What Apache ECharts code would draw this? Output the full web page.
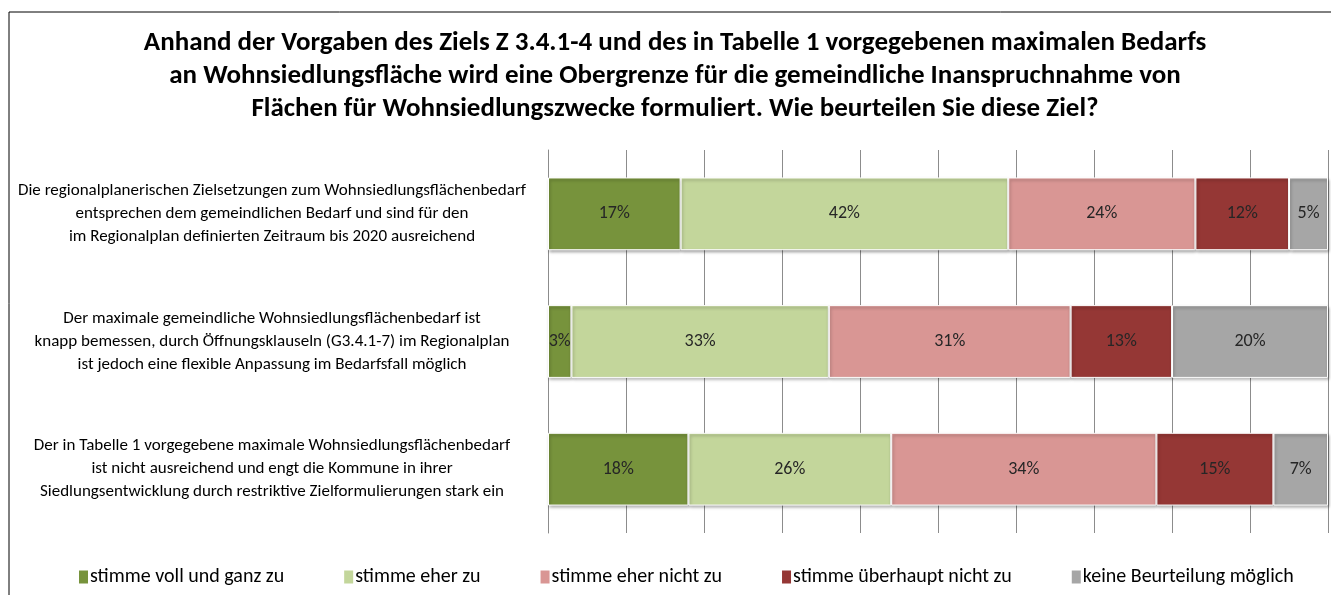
<!DOCTYPE html>
<html>
<head>
<meta charset="utf-8">
<script src="https://cdn.jsdelivr.net/npm/echarts@6/dist/echarts.min.js"></script>
<style>
  html, body { margin: 0; padding: 0; background: #fff; }
  #chart { width: 1331px; height: 595px; }
</style>
</head>
<body>
<div id="chart"></div>
<script>
let chart = echarts.init(document.querySelector('#chart'));

let titleText = 'Anhand der Vorgaben des Ziels Z 3.4.1-4 und des in Tabelle 1 vorgegebenen maximalen Bedarfs\n' +
  'an Wohnsiedlungsfläche wird eine Obergrenze für die gemeindliche Inanspruchnahme von\n' +
  'Flächen für Wohnsiedlungszwecke formuliert. Wie beurteilen Sie diese Ziel?';

let categories = [
  'Die regionalplanerischen Zielsetzungen zum Wohnsiedlungsflächenbedarf\nentsprechen dem gemeindlichen Bedarf und sind für den\nim Regionalplan definierten Zeitraum bis 2020 ausreichend',
  'Der maximale gemeindliche Wohnsiedlungsflächenbedarf ist\nknapp bemessen, durch Öffnungsklauseln (G3.4.1-7) im Regionalplan\nist jedoch eine flexible Anpassung im Bedarfsfall möglich',
  'Der in Tabelle 1 vorgegebene maximale Wohnsiedlungsflächenbedarf\nist nicht ausreichend und engt die Kommune in ihrer\nSiedlungsentwicklung durch restriktive Zielformulierungen stark ein'
];

let seriesNames = ['stimme voll und ganz zu', 'stimme eher zu', 'stimme eher nicht zu', 'stimme überhaupt nicht zu', 'keine Beurteilung möglich'];
let vollUndGanz = [17, 3, 18];
let eherZu = [42, 33, 26];
let eherNicht = [24, 31, 34];
let ueberhauptNicht = [12, 13, 15];
let keineBeurteilung = [5, 20, 7];
let colors = ['#77933C', '#C3D69B', '#D99694', '#953735', '#A6A6A6'];

let font = 'Carlito, "Liberation Sans Narrow", "Open Sans", sans-serif';

function makeSeries(name, data, color) {
  return {
    name: name,
    type: 'bar',
    stack: 'total',
    barWidth: '57%',
    data: data,
    itemStyle: {
      color: color,
      borderColor: '#fff',
      borderWidth: 1,
      shadowColor: 'rgba(0,0,0,0.35)',
      shadowBlur: 3,
      shadowOffsetX: 1,
      shadowOffsetY: 2
    },
    label: {
      show: true,
      position: 'inside',
      formatter: '{c}%',
      color: '#262626',
      fontSize: 18,
      fontFamily: font
    }
  };
}

let option = {
  animation: false,
  color: colors,
  title: {
    text: titleText,
    left: 670,
    textAlign: 'center',
    top: 22,
    textStyle: {
      fontFamily: font,
      fontWeight: 'bold',
      fontSize: 27,
      lineHeight: 33,
      color: '#000'
    }
  },
  legend: {
    left: 72,
    top: 562,
    icon: 'rect',
    itemWidth: 11,
    itemHeight: 15,
    itemGap: 58,
    textStyle: { fontFamily: font, fontSize: 20, color: '#000', padding: [0, 0, 0, -4] },
    data: seriesNames
  },
  grid: { left: 548, right: 3, top: 150, bottom: 62 },
  xAxis: {
    type: 'value',
    min: 0,
    max: 100,
    interval: 10,
    axisLabel: { show: false },
    axisLine: { show: false },
    axisTick: { show: false },
    splitLine: { show: true, lineStyle: { color: '#8c8c8c', width: 1 } }
  },
  yAxis: {
    type: 'category',
    inverse: true,
    data: categories,
    axisLine: { show: true, lineStyle: { color: '#8c8c8c' } },
    axisTick: { show: false },
    axisLabel: {
      align: 'center',
      margin: 276,
      fontFamily: font,
      fontSize: 17,
      lineHeight: 23,
      color: '#000'
    }
  },
  graphic: [
    { type: 'line', shape: { x1: 9, y1: 12, x2: 1331, y2: 12 }, style: { stroke: '#000', lineWidth: 1 } },
    { type: 'line', shape: { x1: 9, y1: 12, x2: 9, y2: 595 }, style: { stroke: '#000', lineWidth: 1 } }
  ],
  series: [
    makeSeries(seriesNames[0], vollUndGanz, colors[0]),
    makeSeries(seriesNames[1], eherZu, colors[1]),
    makeSeries(seriesNames[2], eherNicht, colors[2]),
    makeSeries(seriesNames[3], ueberhauptNicht, colors[3]),
    makeSeries(seriesNames[4], keineBeurteilung, colors[4])
  ]
};

chart.setOption(option);
</script>
</body>
</html>
